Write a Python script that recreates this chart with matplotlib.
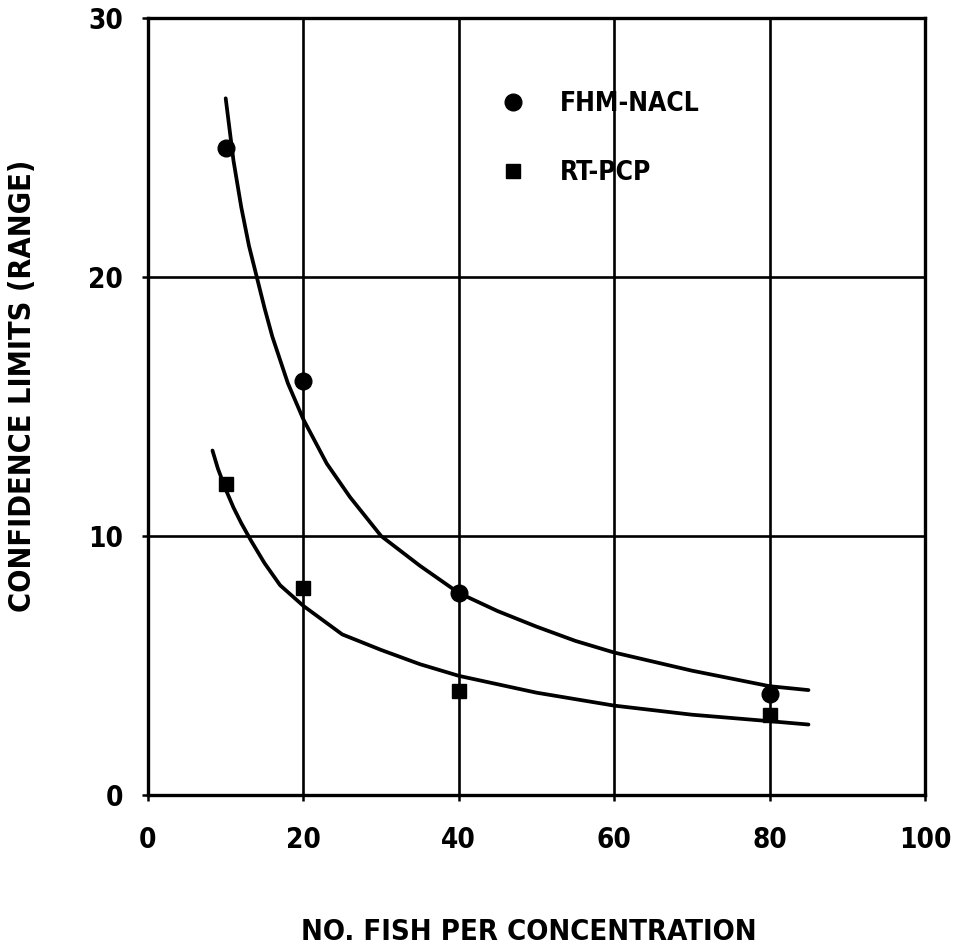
import matplotlib
matplotlib.use("Agg")
import matplotlib.pyplot as plt
from matplotlib import font_manager as fm

# measured points
fish_n = [10, 20, 40, 80]
fhm_nacl = [25.0, 16.0, 7.8, 3.9]
rt_pcp = [12.0, 8.0, 4.0, 3.1]

# hand-drawn trend curves
fhm_curve_x = [10, 11, 12, 13, 14, 15, 16, 18, 20, 23, 26, 30, 35, 40, 45,
               50, 55, 60, 65, 70, 75, 80, 85]
fhm_curve_y = [26.9, 24.5, 22.7, 21.2, 20.0, 18.8, 17.7, 15.9, 14.5, 12.8, 11.5,
               10.0, 8.85, 7.8, 7.1, 6.5, 5.95, 5.5, 5.15, 4.8, 4.5, 4.2, 4.05]
rt_curve_x = [8.3, 9, 10, 11, 12, 13.3, 15, 17, 20, 25, 30, 35, 40, 50, 60,
              70, 80, 85]
rt_curve_y = [13.3, 12.6, 11.8, 11.1, 10.5, 9.8, 8.95, 8.1, 7.3, 6.2, 5.6,
              5.05, 4.6, 3.95, 3.45, 3.1, 2.85, 2.72]

xticks = [0, 20, 40, 60, 80, 100]
yticks = [0, 10, 20, 30]


def pick_font():
    """Find a bold condensed face if one is installed."""
    narrow = ("condensed", "semi-condensed", "extra-condensed", "ultra-condensed")
    best = None
    for f in fm.fontManager.ttflist:
        name = f.name.lower()
        cond = str(f.stretch) in narrow or "narrow" in name or "condensed" in name
        w = f.weight if isinstance(f.weight, int) else 700 if "bold" in str(f.weight) else 400
        if cond and w >= 600 and "oblique" not in f.style and "italic" not in f.style:
            if best is None or "liberation" in name:
                best = f
    if best is not None:
        return fm.FontProperties(fname=best.fname)
    return fm.FontProperties(family="DejaVu Sans", weight="bold")


fp = pick_font()

fig = plt.figure(figsize=(9.56, 9.49), dpi=100)
ax = fig.add_axes([0.1548, 0.1623, 0.9676 - 0.1548, 0.981 - 0.1623])

ax.set_xlim(0, 100)
ax.set_ylim(0, 30)
ax.set_xticks(xticks)
ax.set_yticks(yticks)
ax.grid(True, color="black", linewidth=1.9)
ax.set_axisbelow(True)
for s in ax.spines.values():
    s.set_linewidth(2.4)

ax.tick_params(axis="both", length=4, width=1.8, colors="black")
ax.tick_params(axis="x", pad=18)
ax.tick_params(axis="y", pad=14)
for lab in ax.get_xticklabels() + ax.get_yticklabels():
    lab.set_fontproperties(fp)
    lab.set_fontsize(20)

ax.plot(fhm_curve_x, fhm_curve_y, color="black", linewidth=2.7, solid_capstyle="round")
ax.plot(rt_curve_x, rt_curve_y, color="black", linewidth=2.7, solid_capstyle="round")

ax.plot(fish_n, fhm_nacl, linestyle="none", marker="o", markersize=12,
        color="black", label="FHM-NACL")
ax.plot(fish_n, rt_pcp, linestyle="none", marker="s", markersize=10.5,
        color="black", label="RT-PCP")

leg_fp = fp.copy()
leg_fp.set_size(19)
leg = ax.legend(loc="upper left", bbox_to_anchor=(0.439, 0.92), frameon=False,
                prop=leg_fp, handlelength=1.0, handletextpad=1.3,
                labelspacing=1.65, borderaxespad=0)

ax.set_xlabel("NO. FISH PER CONCENTRATION", fontproperties=fp, fontsize=21)
ax.xaxis.set_label_coords(0.49, -0.158)
ax.set_ylabel("CONFIDENCE LIMITS (RANGE)", fontproperties=fp, fontsize=22)
ax.yaxis.set_label_coords(-0.143, 0.526)

fig.savefig("out.png", dpi=100)
